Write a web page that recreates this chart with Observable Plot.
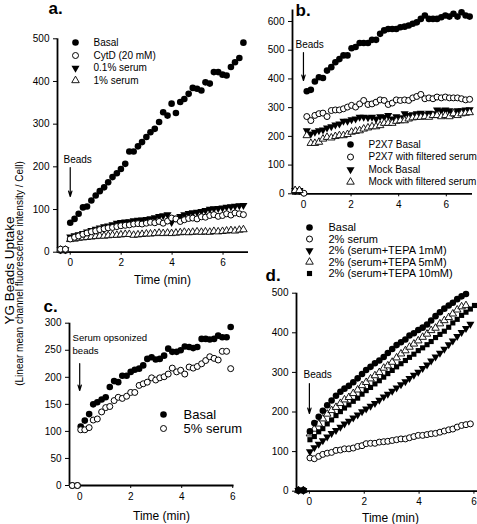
<!DOCTYPE html>
<html><head><meta charset="utf-8">
<script src="https://cdn.jsdelivr.net/npm/d3@7"></script>
<script src="https://cdn.jsdelivr.net/npm/@observablehq/plot@0.6"></script>
<style>
html,body{margin:0;padding:0;background:#fff;overflow:hidden}
#fig{position:relative;width:477px;height:524px;background:#fff}
.panel{position:absolute}
</style></head><body><div id="fig"></div>
<script>
// ---------- Panel a ----------
const timesA = [-0.38, -0.19, 0, 0.17, 0.33, 0.5, 0.66, 0.83, 1.0, 1.16, 1.33, 1.49, 1.66, 1.83, 1.99, 2.16, 2.32, 2.49, 2.66, 2.82, 2.99, 3.15, 3.32, 3.49, 3.65, 3.82, 3.98, 4.15, 4.32, 4.48, 4.65, 4.81, 4.98, 5.15, 5.31, 5.48, 5.64, 5.81, 5.98, 6.14, 6.31, 6.47, 6.64, 6.8];
const aBasal = [4, 4, 69, 78, 90, 105, 107, 121, 133, 143, 152, 164, 176, 185, 195, 207, 236, 236, 248, 258, 270, 281, 289, 305, 328, 320, 348, 326, 352, 359, 371, 385, 383, 379, 398, 395, 422, 422, 416, 414, 434, 445, 455, 491];
const aCytD = [7, 7, 31, 35, 38, 42, 45, 48, 50, 53, 55, 57, 58, 60, 62, 63, 64, 66, 67, 66, 68, 70, 69, 72, 68, 73, 80, 78, 72, 76, 79, 80, 78, 83, 82, 86, 88, 84, 86, 90, 87, 92, 90, 88];
const aSerum01 = [6, 6, 36, 39, 41, 44, 48, 51, 54, 57, 60, 62, 65, 68, 70, 71, 72, 74, 75, 76, 77, 79, 81, 84, 86, 88, 70, 80, 84, 88, 91, 93, 94, 96, 98, 101, 102, 103, 104, 106, 107, 108, 109, 110];
const aSerum1 = [5, 5, 30, 31, 33, 34, 35, 36, 37, 38, 38, 39, 40, 40, 41, 42, 42, 40, 41, 42, 43, 43, 44, 45, 44, 45, 44, 45, 46, 47, 46, 47, 48, 47, 48, 47, 49, 48, 49, 50, 51, 50, 52, 53];
const legendA = ["Basal", "CytD (20 mM)", "0.1% serum", "1% serum"];
const yTicksA = [0, 100, 200, 300, 400, 500];
const xTicksA = [0, 2, 4, 6];

// ---------- Panel b ----------
const timesB = [-0.35, -0.17, 0.02, 0.14, 0.31, 0.48, 0.65, 0.82, 0.99, 1.17, 1.34, 1.51, 1.68, 1.85, 2.02, 2.19, 2.36, 2.53, 2.71, 2.88, 3.05, 3.22, 3.39, 3.56, 3.73, 3.90, 4.07, 4.25, 4.42, 4.59, 4.76, 4.93, 5.10, 5.27, 5.44, 5.61, 5.79, 5.96, 6.13, 6.30, 6.47, 6.64, 6.81, 6.98];
const bP2X7Basal = [10, 10, null, 357, 362, 391, 406, 403, 429, 441, 458, 469, 482, 482, 507, 511, 525, 525, 525, 536, 536, 557, 569, 574, 574, 574, 580, 582, 586, 592, 597, 609, 621, 609, 609, 609, 615, 621, 617, 627, 617, 632, 621, 617];
const bP2X7Serum = [10, 10, 2, 269, 255, 273, 279, 281, 269, 290, 292, 292, 296, 302, 308, 302, 313, 325, 311, 313, 319, 327, 325, 311, 316, 327, 325, 327, 325, 334, 339, 346, 331, 334, 331, 337, 334, 337, 334, 334, 334, 331, 327, 329];
const bMockBasal = [12, 12, null, 220, 209, 215, 220, 223, 230, 234, 240, 244, 253, 253, 258, 261, 267, 267, 265, 267, 261, 269, 267, 273, 261, 269, 265, 279, 273, 276, 279, 281, 276, 281, 279, 292, 290, 292, 290, 281, 290, 290, 292, 293];
const bMockSerum = [12, 12, null, 203, 176, 176, 180, 191, 197, 195, 200, 203, 203, 207, 215, 218, 220, 226, 230, 234, 234, 238, 246, 246, 246, 253, 255, 255, 261, 265, 267, 267, 269, 267, 273, 273, 269, 273, 269, 279, 273, 279, 281, 283];
const legendB = ["P2X7 Basal", "P2X7 with filtered serum", "Mock Basal", "Mock with filtered serum"];
const yTicksB = [0, 100, 200, 300, 400, 500, 600];
const xTicksB = [0, 2, 4, 6];

// ---------- Panel c ----------
const timesC = [-0.29, -0.09, 0.04, 0.2, 0.37, 0.53, 0.69, 0.86, 1.02, 1.18, 1.35, 1.51, 1.67, 1.84, 2.0, 2.16, 2.33, 2.49, 2.65, 2.82, 2.98, 3.14, 3.31, 3.47, 3.63, 3.8, 3.96, 4.12, 4.29, 4.45, 4.61, 4.78, 4.94, 5.1, 5.27, 5.43, 5.59, 5.76, 5.92];
const cBasal = [0, 0, 109, 120, 132, 150, 154, 159, 163, 182, 193, 191, 203, 203, 210, 214, 216, 222, 234, 237, 233, 234, 240, 253, 247, 247, 250, 257, 256, 254, 256, 271, 271, 270, 271, 277, 274, 274, 293];
const cSerum5 = [0, 0, 103, 103, 107, 121, 123, 136, 144, 146, 157, 163, 161, 165, 172, 172, 185, 188, 191, 199, 195, 199, 201, 206, 217, 210, 213, 206, 219, 217, 220, 225, 231, 238, 235, 232, 248, 248, 216];
const legendC = ["Basal", "5% serum"];
const yTicksC = [0, 50, 100, 150, 200, 250, 300];
const xTicksC = [0, 2, 4, 6];

// ---------- Panel d ----------
const timesD = [-0.4, -0.22, 0.02, 0.18, 0.34, 0.49, 0.65, 0.81, 0.97, 1.13, 1.28, 1.44, 1.60, 1.76, 1.92, 2.07, 2.23, 2.39, 2.55, 2.71, 2.86, 3.02, 3.18, 3.34, 3.50, 3.65, 3.81, 3.97, 4.13, 4.29, 4.44, 4.60, 4.76, 4.92, 5.08, 5.23, 5.39, 5.55, 5.71, 5.87, 6.02];
const dBasal = [2, 2, 151, 172, 188, 203, 217, 229, 241, 251, 259, 266, 275, 285, 296, 306, 314, 323, 330, 339, 349, 359, 369, 376, 383, 393, 399, 407, 413, 421, 431, 442, 452, 461, 469, 476, 485, 492, 498];
const dSerum2 = [2, 2, 84, 82, 88, 93, 96, 98, 103, 104, 107, 107, 109, 113, 115, 120, 121, 121, 124, 125, 126, 128, 130, 132, 132, 135, 138, 141, 141, 143, 145, 146, 149, 152, 155, 157, 162, 166, 168, 170];
const dTepa1 = [2, 2, 100, 110, 119, 128, 137, 146, 154, 162, 170, 177, 185, 193, 201, 208, 215, 222, 230, 238, 245, 253, 261, 269, 277, 285, 293, 301, 310, 319, 329, 339, 349, 359, 370, 380, 391, 401, 411, 422];
const dTepa5 = [2, 2, 145, 157, 170, 183, 195, 204, 212, 222, 231, 237, 247, 256, 267, 275, 284, 292, 300, 311, 317, 326, 337, 347, 355, 364, 372, 380, 389, 397, 406, 412, 423, 431, 439, 448, 458, 466, 469];
const dTepa10 = [2, 2, 130, 138, 150, 158, 170, 180, 191, 201, 210, 218, 227, 235, 245, 254, 262, 271, 279, 288, 297, 305, 314, 322, 330, 338, 346, 355, 362, 370, 378, 388, 396, 404, 414, 425, 434, 444, 452, 460, 469];
const legendD = ["Basal", "2% serum", "2% (serum+TEPA 1mM)", "2% (serum+TEPA 5mM)", "2% (serum+TEPA 10mM)"];
const yTicksD = [0, 100, 200, 300, 400, 500];
const xTicksD = [0, 2, 4, 6];

const yTitle = "YG Beads Uptake";
const ySubTitle = "(Linear mean channel fluorescence intensity / Cell)";
const xTitle = "Time (min)";

// ---------- Rendering ----------
const FONT = "'Liberation Sans', Arial, Helvetica, sans-serif";
const triangleDown = {
  draw(context, size) {
    const y = -Math.sqrt(size / (Math.sqrt(3) * 3));
    context.moveTo(0, -y * 2);
    context.lineTo(-Math.sqrt(3) * y, y);
    context.lineTo(Math.sqrt(3) * y, y);
    context.closePath();
  }
};
const STY = {
  fc: {symbol: "circle", fill: "black", stroke: "none", r: 3.3},
  oc: {symbol: "circle", fill: "white", stroke: "black", strokeWidth: 1, r: 3.0},
  ftd: {symbol: triangleDown, fill: "black", stroke: "none", r: 3.0},
  otu: {symbol: "triangle", fill: "white", stroke: "black", strokeWidth: 0.9, r: 2.8},
  fsq: {symbol: "square", fill: "black", stroke: "none", r: 2.9}
};

function makePanel(cfg) {
  const {left, top, width, height, ml, mr, mt, mb, xDomain, yMax, yTicks, xTicks, series, legend} = cfg;
  const px2x = px => xDomain[0] + (px - ml) / (width - ml - mr) * (xDomain[1] - xDomain[0]);
  const py2y = py => (height - mb - py) / (height - mb - mt) * yMax;
  const marks = [
    Plot.ruleX([xDomain[0]], {stroke: "black", strokeWidth: 1.8}),
    Plot.ruleY([0], {stroke: "black", strokeWidth: 1.8}),
    Plot.axisY({ticks: yTicks, tickSize: 4, tickPadding: 4, label: null, fontSize: 10, tickFormat: d => String(d)}),
    Plot.axisX({ticks: xTicks, tickSize: 3, tickPadding: 4, label: null, fontSize: 10, tickFormat: d => String(d)})
  ];
  for (const s of series) {
    const rows = s.values.map((v, i) => ({t: s.times[i], v})).filter(d => d.v != null);
    marks.push(Plot.dot(rows, {x: "t", y: "v", ...STY[s.style]}));
  }
  // legend
  legend.items.forEach((label, i) => {
    const yy = py2y(legend.rows[i]);
    marks.push(Plot.dot([label], {x: px2x(legend.mx), y: yy, ...STY[legend.styles[i]]}));
    marks.push(Plot.text([label], {x: px2x(legend.tx), y: yy, text: d => d, textAnchor: "start", lineAnchor: "middle", fontSize: legend.fontSize, fill: "black"}));
  });
  for (const t of cfg.texts) {
    marks.push(Plot.text([t.text], {x: px2x(t.x), y: py2y(t.y), text: d => d,
      textAnchor: t.anchor || "middle", lineAnchor: t.line || "middle",
      fontSize: t.size, fontWeight: t.bold ? "bold" : "normal", rotate: t.rotate || 0, fill: "black"}));
  }
  const a = cfg.arrow;
  marks.push(Plot.arrow([a], {x1: 0, x2: 0, y1: py2y(a.y1), y2: py2y(a.y2), stroke: "black", strokeWidth: 1.2, headLength: 7, headAngle: 35}));

  const svg = Plot.plot({
    width, height,
    marginLeft: ml, marginRight: mr, marginTop: mt, marginBottom: mb,
    x: {type: "linear", domain: xDomain},
    y: {type: "linear", domain: [0, yMax]},
    style: `font-family: ${FONT}; font-size: 10px; overflow: visible; background: transparent; color: black;`,
    marks
  });
  const div = document.createElement("div");
  div.className = "panel";
  div.style.left = left + "px";
  div.style.top = top + "px";
  div.style.width = width + "px";
  div.style.height = height + "px";
  div.appendChild(svg);
  document.getElementById("fig").appendChild(div);
}

makePanel({
  left: 0, top: 0, width: 250, height: 290, ml: 57, mr: 2, mt: 38.3, mb: 38.3,
  xDomain: [-0.5, 7.0], yMax: 500, yTicks: yTicksA, xTicks: xTicksA,
  series: [
    {times: timesA, values: aBasal, style: "fc"},
    {times: timesA, values: aSerum1, style: "otu"},
    {times: timesA, values: aSerum01, style: "ftd"},
    {times: timesA, values: aCytD, style: "oc"}
  ],
  legend: {items: legendA, styles: ["fc", "oc", "ftd", "otu"], mx: 75, tx: 93, rows: [42, 55, 67.5, 80], fontSize: 10},
  texts: [
    {text: "a.", x: 48, y: 13, anchor: "start", line: "bottom", size: 17, bold: true},
    {text: "Beads", x: 63, y: 159, anchor: "start", size: 10},
    {text: xTitle, x: 162, y: 280, size: 12},
    {text: yTitle, x: 9, y: 270, size: 13.5, rotate: -90},
    {text: ySubTitle, x: 19.5, y: 273, size: 10, rotate: -90}
  ],
  arrow: {y1: 167, y2: 196}
});

makePanel({
  left: 240, top: 0, width: 237, height: 220, ml: 52, mr: 5, mt: 9.5, mb: 26.7,
  xDomain: [-0.46, 7.1], yMax: 640, yTicks: yTicksB, xTicks: xTicksB,
  series: [
    {times: timesB, values: bP2X7Basal, style: "fc"},
    {times: timesB, values: bP2X7Serum, style: "oc"},
    {times: timesB, values: bMockBasal, style: "ftd"},
    {times: timesB, values: bMockSerum, style: "otu"}
  ],
  legend: {items: legendB, styles: ["fc", "oc", "ftd", "otu"], mx: 110, tx: 128, rows: [144, 156.5, 169, 181.5], fontSize: 10},
  texts: [
    {text: "b.", x: 55, y: 15, anchor: "start", line: "bottom", size: 17, bold: true},
    {text: "Beads", x: 55, y: 44, anchor: "start", size: 10}
  ],
  arrow: {y1: 52, y2: 80}
});

makePanel({
  left: 0, top: 290, width: 240, height: 234, ml: 69, mr: 6.5, mt: 32.7, mb: 39,
  xDomain: [-0.4, 6.05], yMax: 300, yTicks: yTicksC, xTicks: xTicksC,
  series: [
    {times: timesC, values: cBasal, style: "fc"},
    {times: timesC, values: cSerum5, style: "oc"}
  ],
  legend: {items: legendC, styles: ["fc", "oc"], mx: 163, tx: 183, rows: [124, 138], fontSize: 13},
  texts: [
    {text: "c.", x: 43, y: 21, anchor: "start", line: "bottom", size: 17, bold: true},
    {text: "Serum opsonized", x: 72, y: 47.7, anchor: "start", size: 9.6},
    {text: "beads", x: 72, y: 60, anchor: "start", size: 9.6},
    {text: xTitle, x: 161, y: 226, size: 12}
  ],
  arrow: {y1: 73, y2: 100}
});

makePanel({
  left: 240, top: 215, width: 237, height: 309, ml: 56, mr: 0, mt: 77.7, mb: 33.3,
  xDomain: [-0.47, 6.13], yMax: 500, yTicks: yTicksD, xTicks: xTicksD,
  series: [
    {times: timesD, values: dSerum2, style: "oc"},
    {times: timesD, values: dTepa1, style: "ftd"},
    {times: timesD, values: dTepa5, style: "otu"},
    {times: timesD, values: dTepa10, style: "fsq"},
    {times: timesD, values: dBasal, style: "fc"}
  ],
  legend: {items: legendD, styles: ["fc", "oc", "ftd", "otu", "fsq"], mx: 69, tx: 88, rows: [12, 23.5, 35, 46.5, 58], fontSize: 11},
  texts: [
    {text: "d.", x: 25, y: 65, anchor: "start", line: "bottom", size: 17, bold: true},
    {text: "Beads", x: 63, y: 159, anchor: "start", size: 10},
    {text: xTitle, x: 150, y: 303, size: 12}
  ],
  arrow: {y1: 168, y2: 198}
});
</script></body></html>
